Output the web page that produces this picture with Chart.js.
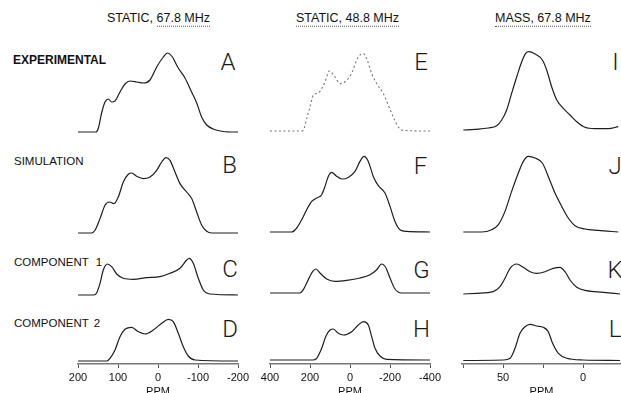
<!DOCTYPE html>
<html><head><meta charset="utf-8">
<script src="https://cdn.jsdelivr.net/npm/chart.js@4"></script>
<style>
html,body{margin:0;padding:0;background:#fff;overflow:hidden;width:621px;height:393px;}
body{position:relative;font-family:"Liberation Sans",Arial,sans-serif;color:#111;}
.t{position:absolute;white-space:nowrap;line-height:1;transform:translateY(-50%);}
.u{border-bottom:1px dotted #555;padding-bottom:1px;}
.L{position:absolute;line-height:1;transform:translate(-50%,-50%);font-family:Roboto,"Liberation Sans",sans-serif;font-weight:300;font-size:24px;color:#1a1a1a;}
canvas{position:absolute;}
</style></head><body>
<div class="t" style="left:107px;top:18px;font-size:12.5px">STATIC, <span class="u">67.8 MHz</span></div>
<div class="t" style="left:296px;top:18px;font-size:12.5px"><span class="u">STATIC, 48.8 MHz</span></div>
<div class="t" style="left:495px;top:18px;font-size:12.5px"><span class="u">MASS, 67.8 MHz</span></div>
<div class="t" style="left:13px;top:60px;font-size:12px;font-weight:bold">EXPERIMENTAL</div>
<div class="t" style="left:14px;top:162px;font-size:11.5px">SIMULATION</div>
<div class="t" style="left:14px;top:263px;font-size:11.5px;word-spacing:4px">COMPONENT 1</div>
<div class="t" style="left:14px;top:324px;font-size:11.5px;word-spacing:2px">COMPONENT 2</div>
<div class="L" style="left:228px;top:62px">A</div>
<div class="L" style="left:229.5px;top:165px">B</div>
<div class="L" style="left:230px;top:268.5px">C</div>
<div class="L" style="left:230px;top:329px">D</div>
<div class="L" style="left:421px;top:61.5px">E</div>
<div class="L" style="left:420.5px;top:166px">F</div>
<div class="L" style="left:421.5px;top:269.5px">G</div>
<div class="L" style="left:421.5px;top:328.5px">H</div>
<div class="L" style="left:615.5px;top:61.5px">I</div>
<div class="L" style="left:615px;top:166px">J</div>
<div class="L" style="left:615px;top:269.5px">K</div>
<div class="L" style="left:615px;top:328.5px">L</div>
<script>
// ---- tick values / labels ----
const ticks1 = [200, 100, 0, -100, -200];
const tickLabels1 = ['200', '100', '0', '-100', '-200'];
const ticks2 = [400, 200, 0, -200, -400];
const tickLabels2 = ['400', '200', '0', '-200', '-400'];
const ticks3 = [75, 50, 25, 0];
const tickLabels3 = ['', '50', '', '0'];

// ---- series (ppm, intensity) ----
const ppmA = [200,155,149,141,132.5,124,115.75,107.5,95,82.5,70,53,36.75,20,3.25,-13.25,-23.25,-34.25,-50.75,-67.5,-84,-96.75,-109,-121.75,-138,-163,-192,-200];
const intA = [0,0,4,19,30,33,30,31,40,48,51,50,49,52,65,75,79,76,64,54,40,29,15,7,3,0.5,0,0];
const ppmB = [200,166,157.5,145,132.5,121.75,110,99.25,86.75,74.25,65.75,53.25,36.75,20,3.25,-9.25,-20,-30,-42.5,-55,-71.75,-84.25,-96.75,-109.25,-121.75,-134,-200];
const intB = [0,0,2.7,14.4,27.7,31,29.4,36,51,58.7,60,56.7,54.4,56,62.7,71,75.4,72.7,61,49.4,41,34.4,21,7.7,1.7,0,0];
const ppmC = [200,160,153.25,145,136.75,126.75,115.75,103.25,86.75,61.75,28.25,-5,-30,-55,-71.75,-78.25,-88.25,-100.75,-113.25,-130,-200];
const intC = [0,0,2.3,11.7,25,31,28.3,21,16.7,15.7,17.3,18.3,21.7,26.7,35,36.7,31.7,16.7,5,1,0];
const ppmD = [200,127.5,120,107.5,95,82.5,65.75,49.25,32.5,11.75,-9.25,-25.75,-38.25,-50.75,-63.25,-75.75,-92.5,-200];
const intD = [0,0,2.7,11,24.3,31.7,33.7,29.3,27,31,37.7,41.7,39.3,27.7,14.3,5,1,0];

const ppmE = [400,241.5,233.5,216.5,200,183.5,158.5,141.5,125,103.5,75,50,16.5,-8.5,-41.5,-66.5,-86.5,-108.5,-133.5,-166.5,-191.5,-216.5,-241.5,-266.5,-400];
const intE = [0,0,0.7,12.4,24,35.7,38,42.4,49,60,54,47.4,50.7,58,74,77.4,70.7,57.4,47.4,37.4,25.7,14,4,0.7,0];
const ppmF = [400,291.5,266.5,241.5,216.5,191.5,166.5,141.5,125,108.5,91.5,70,41.5,8.5,-25,-50,-70,-91.5,-116.5,-141.5,-175,-200,-225,-250,-283.5,-400];
const intF = [0,0,4,12.3,22.3,30.6,34,37.3,45.6,55.6,59.6,56.3,53,54.6,60.6,70.6,75.6,70.6,55.6,46.3,39,25.6,10.6,2.3,0.6,0];
const ppmG = [400,250,233.5,208.5,186.5,170,150,116.5,75,16.5,-50,-100,-133.5,-158.5,-180,-200,-225,-258.5,-400];
const intG = [0,0,3.3,13.3,21.6,24,20,14,11.6,12.6,15,18.3,23.3,29,25,15,4,0,0];
const ppmH = [400,185,166.5,141.5,120,100,83.5,58.5,33.5,-8.5,-41.5,-66.5,-91.5,-108.5,-125,-150,-183.5,-400];
const intH = [0,0,1.7,11.7,24,30,31,26.7,25,28.3,35,38.3,35,23.3,11.7,4,0.7,0];

const ppmI = [74.8,67.5,59.2,53.9,50.8,47.7,44.6,41.4,38.3,35.8,33.75,30,25.4,22.7,19.6,16.4,12.3,8.1,3.9,-1.25,-7.5,-15.8,-22];
const intI = [0,0.7,2,4.3,10,20,36.7,53.3,68.3,76.7,78.3,76,70,60,43.3,30,21.7,15,8.3,2.7,1.3,1.3,3.3];
const ppmJ = [74.8,63.3,57.1,52.9,48.75,44.6,40.4,37.3,34.2,30,25.4,21.7,17.5,13.3,9.2,5,-1.25,-9.6,-22];
const intJ = [0,0,2.3,7.3,20.6,40.6,59,70.6,75.6,74,69,55.6,39,25.6,14,6.3,3,1.6,0];
const ppmK = [74.8,66.4,56.1,51.9,48.75,45.6,41.4,37.3,33.1,28.9,23.75,18.6,14.4,11.25,8.1,3.9,-2.3,-12.7,-23.1];
const intK = [0,0.7,2.3,7.3,15.7,25.7,30,26.7,22.3,20.7,22.3,25.7,26.7,22.3,14,6.7,3.3,1.7,0];
const ppmL = [74.8,49.8,45.6,42.5,39.4,36.25,33.1,28.9,24.8,21.7,19,15.4,10.2,-0.2,-23.1];
const intL = [0,0.5,2.2,12.2,27.2,33.8,36.2,34.5,33.2,28.8,17.2,7.2,2.2,0.5,0];

// ---- layout ----
const col1 = {left:78, width:160, min:-200, max:200, ticks:ticks1, labels:tickLabels1};
const col2 = {left:270, width:160, min:-400, max:400, ticks:ticks2, labels:tickLabels2};
const col3 = {left:462, width:159, min:-23.75, max:75.625, ticks:ticks3, labels:tickLabels3};
const solid = {color:'#1e1e1e', width:1.2};
const dotted = {color:'#777', width:1.1, dash:[2,2.5]};

function panel(ppm, inten, col, baseline, isAxis, style) {
  const H = 95, pad = 20, axisH = 36, axisY = 364;
  let top, d, height;
  if (isAxis) { top = axisY - H; d = axisY - baseline; height = H + axisH; }
  else { d = 3; top = baseline + d - H; height = H; }
  const c = document.createElement('canvas');
  c.width = col.width + 2 * pad; c.height = height;
  c.style.left = (col.left - pad) + 'px'; c.style.top = top + 'px';
  document.body.appendChild(c);
  const xScale = {
    type:'linear', reverse:true, min:col.min, max:col.max, display:isAxis,
    afterBuildTicks: s => { s.ticks = col.ticks.map(v => ({value:v})); },
    ticks:{autoSkip:false, maxRotation:0, minRotation:0, padding:3, color:'#111',
      font:{family:'"Liberation Sans", Arial, sans-serif', size:11},
      callback:(v, i) => col.labels[i]},
    grid:{display:true, drawOnChartArea:false, drawTicks:true, tickLength:4, color:'#555'},
    border:{display:true, color:'#777', width:1.5},
    title:{display:true, text:'PPM', color:'#111', padding:{top:0, bottom:1},
      font:{family:'"Liberation Sans", Arial, sans-serif', size:11}}
  };
  if (isAxis) xScale.afterFit = s => { s.height = axisH; };
  new Chart(c, {
    type:'line',
    data:{datasets:[{data: ppm.map((x, i) => ({x:x, y:inten[i]})),
      borderColor:style.color, borderWidth:style.width, borderDash:style.dash || [],
      pointRadius:0, fill:false, cubicInterpolationMode:'monotone'}]},
    options:{responsive:false, animation:false, devicePixelRatio:1, events:[],
      layout:{padding:{left:pad, right:pad, top:0, bottom:0}},
      plugins:{legend:{display:false}, tooltip:{enabled:false}},
      scales:{x:xScale, y:{display:false, min:-d, max:H - d}}}
  });
}

panel(ppmA, intA, col1, 132, false, solid);
panel(ppmB, intB, col1, 232.7, false, solid);
panel(ppmC, intC, col1, 295, false, solid);
panel(ppmD, intD, col1, 361, true, solid);
panel(ppmE, intE, col2, 130.7, false, dotted);
panel(ppmF, intF, col2, 232.3, false, solid);
panel(ppmG, intG, col2, 293.3, false, solid);
panel(ppmH, intH, col2, 360, true, solid);
panel(ppmI, intI, col3, 130, false, solid);
panel(ppmJ, intJ, col3, 232.3, false, solid);
panel(ppmK, intK, col3, 294, false, solid);
panel(ppmL, intL, col3, 360.5, true, solid);
</script>
</body></html>
